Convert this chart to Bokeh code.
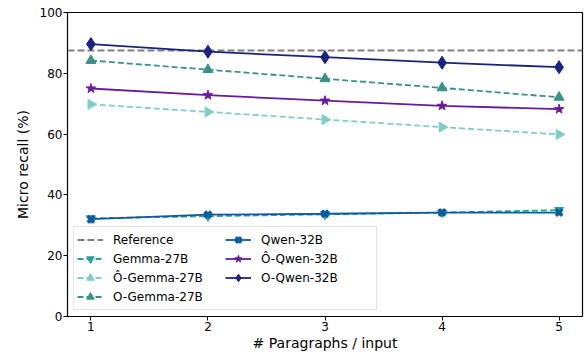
import numpy as np
from bokeh.plotting import figure
from bokeh.models import Legend, LegendItem, FixedTicker
from bokeh.embed import file_html
from bokeh.resources import INLINE

paragraphs = [1, 2, 3, 4, 5]
reference = 87.5
gemma = [32.3, 33.0, 33.6, 34.2, 35.0]
o_hat_gemma = [69.8, 67.3, 64.8, 62.3, 59.9]
o_gemma = [84.2, 81.2, 78.2, 75.2, 72.1]
qwen = [32.0, 33.5, 33.8, 34.2, 34.2]
o_hat_qwen = [75.0, 72.8, 71.0, 69.3, 68.2]
o_qwen = [89.6, 87.1, 85.3, 83.5, 82.0]

FONT = "DejaVu Sans"
X0, X1 = 0.8, 5.2

p = figure(width=587, height=354, output_backend="svg", toolbar_location=None,
           x_range=(X0, X1), y_range=(0, 100),
           min_border_left=67, min_border_right=5, min_border_top=12, min_border_bottom=38)
p.xgrid.visible = False
p.ygrid.visible = False
p.outline_line_color = "black"
p.outline_line_width = 1.2
p.outline_line_alpha = 1

for ax in (p.xaxis, p.yaxis):
    ax.major_label_text_font = FONT
    ax.major_label_text_font_size = "12px"
    ax.major_label_text_color = "black"
    ax.axis_label_text_font = FONT
    ax.axis_label_text_font_size = "14px"
    ax.axis_label_text_font_style = "normal"
    ax.axis_label_text_color = "black"
    ax.minor_tick_line_color = None
    ax.major_tick_out = 4
    ax.major_tick_in = 0
    ax.axis_line_color = "black"
    ax.major_label_standoff = 1
    ax.axis_label_standoff = 1

p.yaxis.axis_label_standoff = 6

p.xaxis.ticker = FixedTicker(ticks=paragraphs)
p.yaxis.ticker = FixedTicker(ticks=[0, 20, 40, 60, 80, 100])
p.xaxis.axis_label = "# Paragraphs / input"
p.yaxis.axis_label = "Micro recall (%)"

items = []

ref_line = p.line([X0, X1], [reference, reference], line_color="#808080",
                  line_dash="7 3", line_width=1.8)
items.append(LegendItem(label="Reference", renderers=[ref_line]))

series = [
    ("Gemma-27B", gemma, "#2aa198", "6 3", "inverted_triangle", 9, 0.0),
    ("Ô-Gemma-27B", o_hat_gemma, "#7fcdc4", "6 3", "triangle", 10, -np.pi / 2),
    ("O-Gemma-27B", o_gemma, "#3a9188", "6 3", "triangle", 10, 0.0),
    ("Qwen-32B", qwen, "#0b5c9e", "solid", "x", 9, 0.0),
    ("Ô-Qwen-32B", o_hat_qwen, "#6a1b9a", "solid", "star", 10, 0.0),
    ("O-Qwen-32B", o_qwen, "#1a237e", "solid", "diamond", 13, 0.0),
]

for name, vals, color, dash, marker, size, angle in series:
    ln = p.line(paragraphs, vals, line_color=color, line_dash=dash, line_width=1.8)
    kw = dict(marker=marker, size=size, fill_color=color, line_color=color, angle=angle)
    if marker == "x":
        kw["line_width"] = 3.5
    sc = p.scatter(paragraphs, vals, **kw)
    items.append(LegendItem(label=name, renderers=[ln, sc]))

legend = Legend(items=items, location=(6, 6), ncols=2,
                label_text_font=FONT, label_text_font_size="12px",
                label_text_color="black",
                border_line_color="#cccccc", border_line_width=1,
                background_fill_alpha=0.8, margin=0, padding=3,
                spacing=0, label_height=19, glyph_height=19, glyph_width=26,
                label_width=112, label_standoff=10, item_background_fill_alpha=0)
p.add_layout(legend, "center")

open("out.html", "w").write(file_html(p, INLINE))
